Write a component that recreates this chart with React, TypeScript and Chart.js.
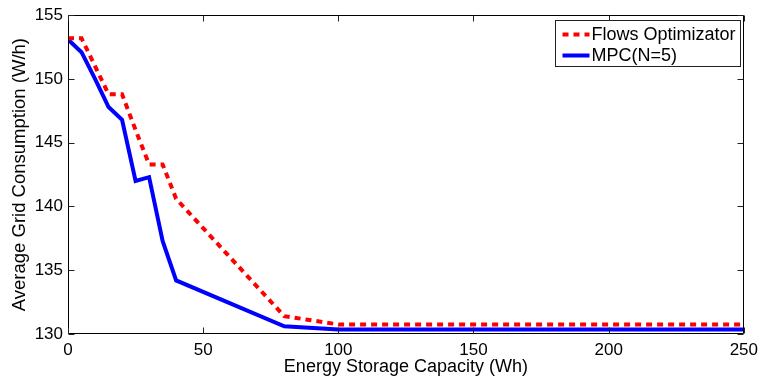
import React, { useEffect, useRef } from "react";
import { Chart, registerables } from "chart.js";

Chart.register(...registerables);

const capacities = [0, 5, 10, 15, 20, 25, 30, 35, 40, 80, 100, 150, 200, 250];
const flowsOptimizator = [153.2, 153.2, 151.0, 148.8, 148.8, 146.0, 143.3, 143.3, 140.6, 131.4, 130.75, 130.75, 130.75, 130.75];
const mpcN5 = [153.1, 152.1, 150.0, 147.8, 146.8, 142.0, 142.3, 137.3, 134.2, 130.6, 130.35, 130.35, 130.35, 130.35];
const seriesLabels = ["Flows Optimizator", "MPC(N=5)"];
const xTitle = "Energy Storage Capacity (Wh)";
const yTitle = "Average Grid Consumption (W/h)";

const FONT = "'Liberation Sans', Arial, Helvetica, sans-serif";

const framePlugin = {
  id: "matlabFrame",
  afterDatasetsDraw(chart: any) {
    const { ctx, chartArea, scales } = chart;
    const l = Math.round(chartArea.left) + 0.5;
    const r = Math.round(chartArea.right) - 0.5;
    const t = Math.round(chartArea.top) + 0.5;
    const b = Math.round(chartArea.bottom) - 0.5;
    ctx.save();
    ctx.strokeStyle = "#000";
    ctx.lineWidth = 1;
    ctx.beginPath();
    ctx.rect(l, t, r - l, b - t);
    ctx.stroke();
    const len = 6;
    ctx.strokeStyle = "#222";
    ctx.beginPath();
    scales.x.ticks.forEach((tk: any) => {
      const px = Math.round(scales.x.getPixelForValue(tk.value)) + 0.5;
      ctx.moveTo(px, b);
      ctx.lineTo(px, b - len);
      ctx.moveTo(px, t);
      ctx.lineTo(px, t + len);
    });
    scales.y.ticks.forEach((tk: any) => {
      const py = Math.round(scales.y.getPixelForValue(tk.value)) + 0.5;
      ctx.moveTo(l, py);
      ctx.lineTo(l + len, py);
      ctx.moveTo(r, py);
      ctx.lineTo(r - len, py);
    });
    ctx.stroke();
    ctx.restore();
  },
};

const legendPlugin = {
  id: "matlabLegend",
  afterDraw(chart: any) {
    const { ctx, chartArea } = chart;
    const w = 185;
    const h = 46;
    const x0 = Math.round(chartArea.right - 4 - w) + 0.5;
    const y0 = Math.round(chartArea.top + 5) + 0.5;
    ctx.save();
    ctx.fillStyle = "#fff";
    ctx.fillRect(x0, y0, w, h);
    ctx.strokeStyle = "#222";
    ctx.lineWidth = 1;
    ctx.strokeRect(x0, y0, w, h);
    ctx.font = `18px ${FONT}`;
    ctx.textBaseline = "middle";
    ctx.textAlign = "left";
    chart.data.datasets.forEach((ds: any, i: number) => {
      const cy = y0 + 14 + i * 21;
      ctx.save();
      ctx.strokeStyle = ds.borderColor;
      ctx.lineWidth = ds.borderWidth;
      ctx.setLineDash(ds.borderDash || []);
      ctx.beginPath();
      ctx.moveTo(x0 + 7, cy);
      ctx.lineTo(x0 + 34, cy);
      ctx.stroke();
      ctx.restore();
      ctx.fillStyle = "#000";
      ctx.fillText(ds.label, x0 + 36, cy + 1);
    });
    ctx.restore();
  },
};

export default function App() {
  const ref = useRef<HTMLCanvasElement | null>(null);

  useEffect(() => {
    document.body.style.margin = "0";
    const canvas = ref.current;
    if (!canvas) return;
    const chart = new Chart(canvas, {
      type: "line",
      data: {
        datasets: [
          {
            label: seriesLabels[0],
            data: capacities.map((x, i) => ({ x, y: flowsOptimizator[i] })),
            borderColor: "#ff0000",
            borderWidth: 4,
            borderDash: [6, 5],
            pointRadius: 0,
            fill: false,
            tension: 0,
          },
          {
            label: seriesLabels[1],
            data: capacities.map((x, i) => ({ x, y: mpcN5[i] })),
            borderColor: "#0000ff",
            borderWidth: 4,
            pointRadius: 0,
            fill: false,
            tension: 0,
          },
        ],
      },
      options: {
        responsive: false,
        animation: false,
        layout: { padding: { top: 12, right: 17, left: 0, bottom: 0 } },
        plugins: {
          legend: { display: false },
          tooltip: { enabled: false },
        },
        scales: {
          x: {
            type: "linear",
            min: 0,
            max: 250,
            grid: { display: false, drawTicks: false },
            border: { display: false },
            ticks: {
              stepSize: 50,
              color: "#000",
              padding: 6,
              maxRotation: 0,
              font: { family: FONT, size: 17 },
            },
            title: {
              display: true,
              text: xTitle,
              color: "#000",
              font: { family: FONT, size: 18 },
              padding: { top: 0, bottom: 3 },
            },
            afterFit: (s: any) => {
              s.height = 47;
            },
          },
          y: {
            type: "linear",
            min: 130,
            max: 155,
            grid: { display: false, drawTicks: false },
            border: { display: false },
            ticks: {
              stepSize: 5,
              color: "#000",
              padding: 5,
              font: { family: FONT, size: 17 },
            },
            title: {
              display: true,
              text: yTitle,
              color: "#000",
              font: { family: FONT, size: 18.5 },
              padding: { top: 9, bottom: 0 },
            },
            afterFit: (s: any) => {
              s.width = 68;
            },
          },
        },
      },
      plugins: [framePlugin, legendPlugin],
    });
    return () => chart.destroy();
  }, []);

  return (
    <div style={{ position: "fixed", left: 0, top: 0, width: 764, height: 381, background: "#fff" }}>
      <canvas ref={ref} width={764} height={381} style={{ display: "block" }} />
    </div>
  );
}
